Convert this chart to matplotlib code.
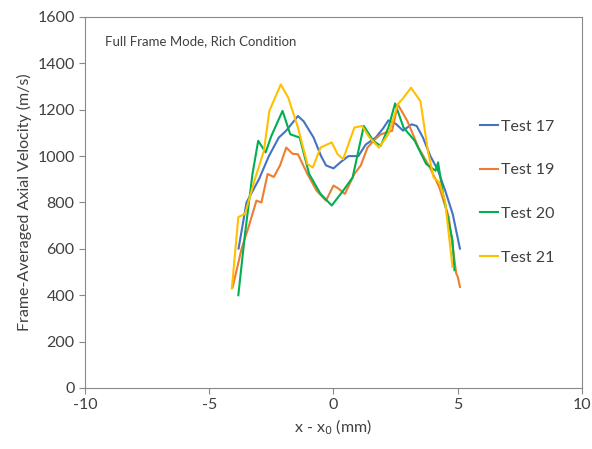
from matplotlib import pyplot as plt

plt.rcParams['font.family'] = ['Lato', 'DejaVu Sans']
plt.rcParams['axes.unicode_minus'] = False

# Test 17
x17 = [-3.82, -3.5, -3.0, -2.6, -2.2, -1.9, -1.43, -1.2, -0.8, -0.5, -0.3, 0.0, 0.3, 0.6, 1.0,
       1.3, 1.7, 2.0, 2.21, 2.5, 2.8, 3.15, 3.35, 3.6, 3.9, 4.2, 4.5, 4.8, 5.09]
y17 = [601, 800, 900, 1000, 1080, 1110, 1173, 1150, 1080, 1000, 960, 947, 975, 1000, 1000,
       1050, 1080, 1120, 1154, 1140, 1110, 1137, 1130, 1080, 1000, 940, 850, 750, 601]

# Test 19
x19 = [-4.06, -3.7, -3.4, -3.1, -2.9, -2.65, -2.4, -2.15, -1.9, -1.65, -1.43, -1.05, -0.68,
       -0.3, 0.0, 0.2, 0.46, 0.84, 1.1, 1.37, 1.65, 1.9, 2.36, 2.59, 2.97, 3.42, 3.88, 4.26,
       4.64, 4.94, 5.0, 5.09]
y19 = [433, 600, 700, 808, 800, 923, 910, 960, 1037, 1010, 1008, 923, 851, 808, 873, 860, 837,
       923, 960, 1037, 1070, 1094, 1109, 1223, 1152, 1037, 951, 865, 737, 494, 480, 436]

# Test 20
x20 = [-3.83, -3.56, -3.26, -3.03, -2.73, -2.5, -2.05, -1.74, -1.36, -0.98, -0.52, -0.07,
       0.39, 0.77, 1.22, 1.6, 1.9, 2.21, 2.48, 2.82, 3.27, 3.73, 4.11, 4.21, 4.41, 4.79, 4.87]
y20 = [400, 665, 923, 1066, 1016, 1087, 1195, 1094, 1080, 923, 837, 787, 851, 908, 1130, 1066,
       1044, 1123, 1227, 1123, 1066, 966, 937, 973, 837, 637, 508]

# Test 21
x21 = [-4.09, -3.83, -3.56, -3.18, -2.8, -2.58, -2.12, -1.82, -1.43, -1.05, -0.83, -0.52,
       -0.07, 0.16, 0.39, 0.84, 1.15, 1.45, 1.83, 2.21, 2.59, 2.82, 3.12, 3.5, 3.8, 4.03, 4.26,
       4.49, 4.79]
y21 = [429, 737, 751, 894, 1023, 1195, 1309, 1252, 1123, 966, 951, 1037, 1059, 1009, 987,
       1123, 1130, 1080, 1037, 1094, 1223, 1252, 1295, 1237, 1023, 908, 887, 808, 522]

fig = plt.figure(figsize=(5.92, 4.49), dpi=100)
ax = fig.add_axes([0.1436, 0.1359, 0.8394, 0.8263])

ax.plot(x17, y17, color='#4472C4', lw=1.5, label='Test 17')
ax.plot(x19, y19, color='#ED7D31', lw=1.5, label='Test 19')
ax.plot(x20, y20, color='#00B050', lw=1.5, label='Test 20')
ax.plot(x21, y21, color='#FFC000', lw=1.5, label='Test 21')

ax.set_xlim(-10, 10)
ax.set_ylim(0, 1600)
ax.set_xticks([-10, -5, 0, 5, 10])
ax.set_yticks(range(0, 1601, 200))
for s in ax.spines.values():
    s.set_color('#898989')
ax.tick_params(colors='#898989', labelcolor='#404040', labelsize=11.5, length=4)

ax.set_xlabel('x - x$_0$ (mm)', fontsize=11.5, color='#404040')
ax.set_ylabel('Frame-Averaged Axial Velocity (m/s)', fontsize=11.5, color='#404040')
ax.text(-9.2, 1480, 'Full Frame Mode, Rich Condition', fontsize=9.5, color='#404040')

leg = ax.legend(loc='center left', bbox_to_anchor=(0.795, 0.528), frameon=False,
                fontsize=11.5, handlelength=1.15, handletextpad=0.15, labelspacing=1.85,
                borderpad=0, borderaxespad=0, labelcolor='#404040')

fig.savefig('out.png', dpi=100)
